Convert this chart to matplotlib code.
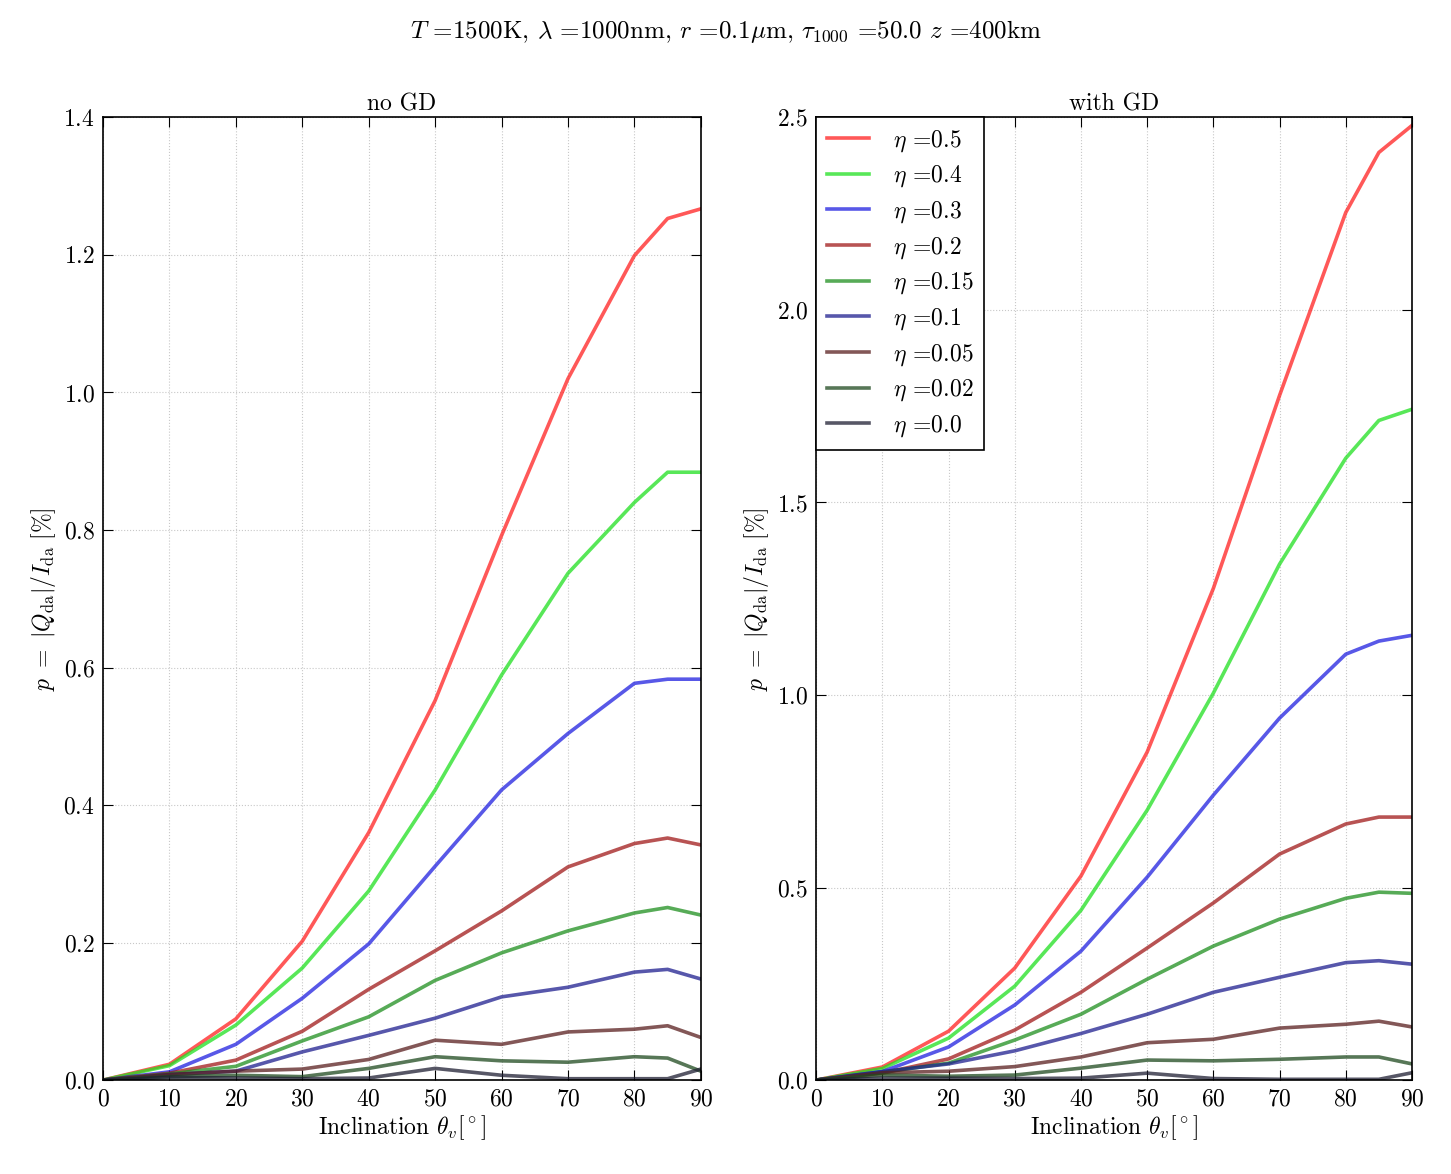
import matplotlib
matplotlib.use("Agg")
import matplotlib.pyplot as plt

plt.rcParams['font.family'] = 'serif'
plt.rcParams['font.serif'] = ['cmr10', 'DejaVu Serif']
plt.rcParams['mathtext.fontset'] = 'cm'
plt.rcParams['axes.formatter.use_mathtext'] = True
plt.rcParams['axes.unicode_minus'] = False

# inclination grid
theta = [0, 10, 20, 30, 40, 50, 60, 70, 80, 85, 90]

eta_labels = ['0.5', '0.4', '0.3', '0.2', '0.15', '0.1', '0.05', '0.02', '0.0']
colors = ['#ff2020', '#20e020', '#2020e0', '#a01a1a', '#1f8f1f', '#1f1f8f',
          '#5a1f1f', '#1f4a1f', '#1f1f33']

# no gravity darkening, p [%]
p_nogd = [
    [0, 0.023, 0.089, 0.202, 0.360, 0.552, 0.792, 1.020, 1.199, 1.253, 1.267],
    [0, 0.021, 0.080, 0.163, 0.275, 0.422, 0.589, 0.737, 0.840, 0.884, 0.884],
    [0, 0.012, 0.052, 0.119, 0.198, 0.311, 0.422, 0.504, 0.577, 0.583, 0.583],
    [0, 0.010, 0.029, 0.071, 0.132, 0.188, 0.246, 0.310, 0.344, 0.352, 0.342],
    [0, 0.009, 0.020, 0.057, 0.092, 0.145, 0.185, 0.217, 0.243, 0.251, 0.240],
    [0, 0.008, 0.013, 0.041, 0.065, 0.090, 0.121, 0.135, 0.157, 0.161, 0.147],
    [0, 0.008, 0.013, 0.016, 0.030, 0.058, 0.052, 0.070, 0.074, 0.079, 0.062],
    [0, 0.005, 0.007, 0.005, 0.017, 0.034, 0.028, 0.026, 0.034, 0.032, 0.013],
    [0, 0.004, 0.003, 0.002, 0.003, 0.017, 0.007, 0.002, 0.002, 0.002, 0.016],
]

# with gravity darkening, p [%]
p_gd = [
    [0, 0.034, 0.127, 0.291, 0.530, 0.852, 1.277, 1.778, 2.253, 2.409, 2.479],
    [0, 0.030, 0.109, 0.244, 0.441, 0.701, 1.005, 1.340, 1.615, 1.713, 1.742],
    [0, 0.022, 0.086, 0.195, 0.335, 0.527, 0.740, 0.940, 1.106, 1.140, 1.155],
    [0, 0.018, 0.055, 0.130, 0.228, 0.343, 0.460, 0.587, 0.665, 0.683, 0.683],
    [0, 0.020, 0.044, 0.104, 0.171, 0.262, 0.348, 0.418, 0.472, 0.488, 0.485],
    [0, 0.022, 0.042, 0.076, 0.121, 0.171, 0.228, 0.267, 0.305, 0.310, 0.301],
    [0, 0.019, 0.023, 0.035, 0.060, 0.097, 0.106, 0.135, 0.145, 0.153, 0.138],
    [0, 0.013, 0.010, 0.013, 0.031, 0.052, 0.050, 0.054, 0.060, 0.060, 0.042],
    [0, 0.005, 0.005, 0.004, 0.005, 0.018, 0.004, 0.002, 0.002, 0.002, 0.019],
]

fig = plt.figure(figsize=(14.51, 11.74), dpi=100)
ax1 = fig.add_axes([0.071, 0.080, 0.412, 0.820])
ax2 = fig.add_axes([0.5625, 0.080, 0.4106, 0.820])

for ax, data, title, ymax, ystep in [(ax1, p_nogd, 'no GD', 1.4, 0.2),
                                     (ax2, p_gd, 'with GD', 2.5, 0.5)]:
    for vals, lab, c in zip(data, eta_labels, colors):
        ax.plot(theta, vals, color=c, alpha=0.75, lw=2.6,
                label=r'$\eta$ =' + lab)
    ax.set_xlim(0, 90)
    ax.set_ylim(0, ymax)
    ax.set_xticks(range(0, 91, 10))
    nt = int(round(ymax / ystep))
    ax.set_yticks([round(i * ystep, 2) for i in range(nt + 1)])
    ax.grid(True, color='#c8c8c8', linestyle=':', linewidth=0.8)
    ax.tick_params(direction='in', top=True, right=True, length=7,
                   labelsize=17, pad=6)
    ax.set_title(title, fontsize=17, pad=5)
    ax.set_xlabel(r'Inclination $\theta_v [^\circ]$', fontsize=17, labelpad=2)
    ax.set_ylabel(r'$p\ =\ |Q_{\rm da}|/I_{\rm da}\ [\%]$', fontsize=17)
    for s in ax.spines.values():
        s.set_linewidth(1.2)

leg = ax2.legend(loc='upper left', borderaxespad=0, fontsize=17,
                 fancybox=False, framealpha=1, handlelength=1.8,
                 handletextpad=1.0, labelspacing=0.42, borderpad=0.45)
leg.get_frame().set_edgecolor('black')
leg.get_frame().set_linewidth(1.2)

fig.suptitle(r'$T$ =1500K, $\lambda$ =1000nm, $r$ =0.1$\mu$m, '
             r'$\tau_{1000}$ =50.0 $z$ =400km', fontsize=18, y=0.985)

fig.savefig('out.png', dpi=100)
